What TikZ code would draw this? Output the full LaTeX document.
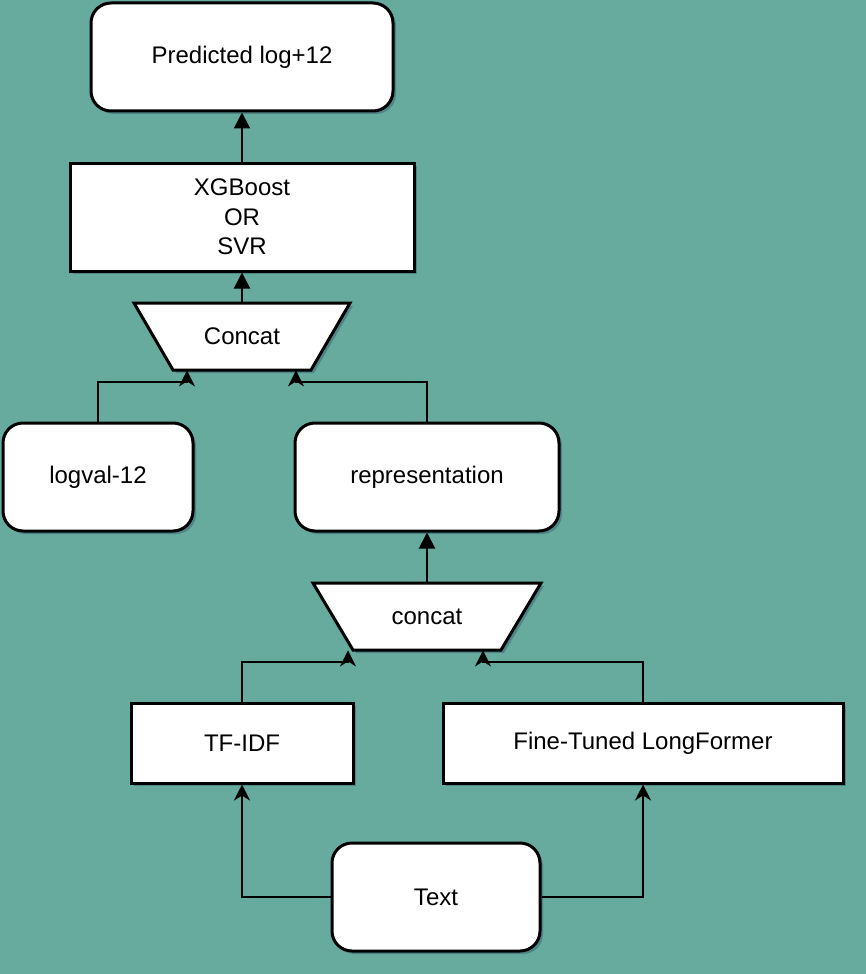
\documentclass[tikz,border=0pt]{standalone}
\usepackage{fontspec}
\setmainfont{Liberation Sans}
\usetikzlibrary{arrows.meta,shadows}
\definecolor{bgteal}{HTML}{67AB9F}

\begin{document}
\begin{tikzpicture}[x=0.5pt,y=-0.5pt,
  font=\fontsize{12}{14.7}\selectfont,
  softshadow/.style={drop shadow={shadow xshift=1.5pt,shadow yshift=-1.5pt,opacity=0.22,fill=black!80!blue}},
  rbox/.style={draw,line width=1.5pt,fill=white,rounded corners=10pt,softshadow,inner sep=0pt,align=center},
  sbox/.style={draw,line width=1.5pt,fill=white,softshadow,inner sep=0pt,align=center},
  catline/.style={draw,line width=1.5pt,fill=white,softshadow,line join=miter},
  catlbl/.style={inner sep=0pt,minimum height=33.5pt},
  blk/.style={-{Triangle[length=8pt,width=8pt]},line width=1pt},
  cls/.style={-{Stealth[length=8pt,width=8pt,inset=2.5pt]},line width=1pt}]
\useasboundingbox (0,0) rectangle (866,974);
\fill[bgteal] (0,0) rectangle (866,974);
\node[rbox,minimum width=151pt,minimum height=54pt] (pred) at (242,57) {Predicted log+12};
\node[sbox,minimum width=172pt,minimum height=54pt] (xgb) at (242,217) {XGBoost\\OR\\SVR};
\path[catline] (134,303) -- (350,303) -- (311,370) -- (173,370) -- cycle;
\node[catlbl,minimum width=108pt] (cat1) at (242,336.5) {Concat};
\node[rbox,minimum width=95pt,minimum height=54pt] (logval) at (98,477) {logval-12};
\node[rbox,minimum width=132pt,minimum height=54pt] (rep) at (427,477) {representation};
\path[catline] (313,583) -- (541,583) -- (501,650) -- (353,650) -- cycle;
\node[catlbl,minimum width=114pt] (cat2) at (427,616.5) {concat};
\node[sbox,minimum width=111pt,minimum height=40pt] (tfidf) at (242,743) {TF-IDF};
\node[sbox,minimum width=200pt,minimum height=40pt] (ft) at (643,743) {Fine-Tuned LongFormer};
\node[rbox,minimum width=104pt,minimum height=54pt] (txt) at (436,897) {Text};
\draw[blk] (xgb.north) -- (pred.south);
\draw[blk] (cat1.north) -- (xgb.south);
\draw[blk] (cat2.north) -- (rep.south);
\draw[cls] (logval.north) -- ++(0,-40) -| ([xshift=-27.5pt]cat1.south);
\draw[cls] (rep.north) -- ++(0,-40) -| ([xshift=27pt]cat1.south);
\draw[cls] (tfidf.north) -- ++(0,-40) -| ([xshift=-39.5pt]cat2.south);
\draw[cls] (ft.north) -- ++(0,-40) -| ([xshift=28pt]cat2.south);
\draw[cls] (txt.west) -| (tfidf.south);
\draw[cls] (txt.east) -| (ft.south);
\end{tikzpicture}
\end{document}
